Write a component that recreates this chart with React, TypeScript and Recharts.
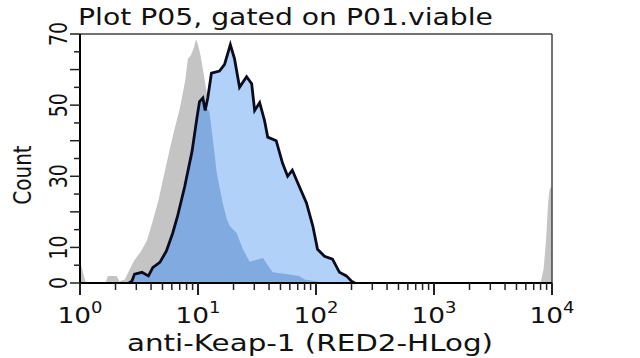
import { ComposedChart, Area, Line, XAxis, YAxis, ReferenceLine } from 'recharts';

const FONT = '"DejaVu Sans", Verdana, sans-serif';

// [channel, count]
const control: [number, number][] = [
  [1, 6], [1.06, 3], [1.12, 0], [1.65, 0], [1.72, 2], [2.05, 2], [2.15, 0.5], [2.4, 1],
  [2.65, 4], [2.9, 6.5], [3.3, 9], [3.7, 12], [4.1, 17], [4.6, 23], [5.2, 31], [5.8, 38],
  [6.3, 43], [7.0, 49], [7.3, 52], [7.8, 57], [8.2, 63], [8.7, 64], [9.2, 66], [9.6, 68.5],
  [10, 67], [10.5, 64], [11, 60], [11.8, 54], [12.5, 48], [13.4, 40], [14.4, 31], [16.2, 22.5],
  [17.5, 18], [18.6, 16], [21.3, 14], [24, 9.5], [27.4, 6], [31, 6.5], [35.5, 7], [39, 5],
  [43, 3], [55, 2.5], [72, 2], [80, 1], [100, 0.5], [120, 0], [8000, 0], [8500, 4],
  [8900, 12], [9250, 22], [9500, 26], [9800, 27], [10000, 27],
];

const sample: [number, number][] = [
  [2.6, 0], [2.75, 0.5], [2.9, 2.5], [3.35, 3], [3.8, 2], [4.15, 4.4], [4.75, 5.8], [5.4, 9],
  [6.1, 14], [6.7, 18.7], [7.7, 27], [8.9, 37], [9.8, 46.5], [10.3, 51], [11, 52], [11.5, 48.5],
  [12.1, 52], [13, 59], [15.2, 59.6], [16.8, 61.5], [18.8, 67], [20.4, 63], [22.5, 55], [25.8, 58],
  [28.5, 56], [30.2, 48.5], [33.3, 50.7], [36.6, 45.7], [39, 41], [46, 40], [52, 33.7], [57.5, 30],
  [63, 31.7], [72.5, 27], [83, 22.5], [94, 16], [103, 9.5], [118, 7.5], [138, 6.7], [158, 3],
  [181, 2], [200, 0.5], [213, 0],
];

// darker region where the two histograms overlap
const overlap: [number, number][] = [
  [2.6, 0], [2.75, 0.5], [2.9, 2.5], [3.35, 3], [3.8, 2], [4.15, 4.4], [4.75, 5.8], [5.4, 9],
  [6.1, 14], [6.7, 18.7], [7.7, 27], [8.9, 37], [9.8, 46.5], [10.3, 51], [11, 52], [11.5, 48.5],
  [12.1, 49], [12.5, 48], [13.4, 40], [14.4, 31], [16.2, 22.5], [17.5, 18], [18.6, 16], [21.3, 14],
  [24, 9.5], [27.4, 6], [31, 6.5], [35.5, 7], [39, 5], [43, 3], [55, 2.5], [72, 2], [80, 1],
  [100, 0.5], [120, 0],
];

const xDecades = [1, 10, 100, 1000, 10000];
const xExponents = ['0', '1', '2', '3', '4'];
const yTicks = [0, 5, 10, 15, 20, 25, 30, 35, 40, 45, 50, 55, 60, 65, 70];
const yLabels = [0, 10, 30, 50, 70];

const xTicks = xDecades.flatMap((d, i) =>
  i < xDecades.length - 1 ? [1, 2, 3, 4, 5, 6, 7, 8, 9].map((m) => m * d) : [d]
);

const rows = new Map<number, any>();
const addSeries = (pts: [number, number][], key: string) => {
  pts.forEach(([x, y]) => {
    const r = rows.get(x) ?? { x };
    r[key] = y;
    rows.set(x, r);
  });
};
addSeries(control, 'control');
addSeries(sample, 'sample');
addSeries(overlap, 'overlap');
const table = [...rows.values()].sort((a, b) => a.x - b.x);

function XTick({ x, y, payload }: any) {
  const i = xDecades.indexOf(payload.value);
  const major = i >= 0;
  return (
    <g>
      <line x1={x} x2={x} y1={y} y2={y + (major ? 12 : 7)} stroke="#222" strokeWidth={major ? 2 : 1.5} />
      {major && (
        <text transform={`translate(${x},323) scale(1.2,1)`} textAnchor="middle" fontSize={22} fontFamily={FONT} fill="#111">
          <tspan>10</tspan>
          <tspan dy={-10} fontSize={15}>{xExponents[i]}</tspan>
        </text>
      )}
    </g>
  );
}

function YTick({ x, y, payload }: any) {
  const v = payload.value;
  const major = v % 10 === 0;
  return (
    <g>
      <line x1={x - (major ? 10 : 6)} x2={x} y1={y} y2={y} stroke="#222" strokeWidth={1.5} />
      {yLabels.includes(v) && (
        <text transform={`translate(67,${y}) scale(1.3,1) rotate(-90)`} textAnchor="middle" fontSize={19} fontFamily={FONT} fill="#111">
          {v}
        </text>
      )}
    </g>
  );
}

export default function App() {
  return (
    <div style={{ position: 'absolute', left: 0, top: 0, width: 640, height: 358, background: '#fff' }}>
      <ComposedChart width={640} height={358} data={table} margin={{ top: 34, right: 88, bottom: 0, left: 0 }}>
        <XAxis
          dataKey="x"
          type="number"
          scale="log"
          domain={[1, 10000]}
          allowDataOverflow
          ticks={xTicks}
          interval={0}
          tickSize={0}
          tickMargin={0}
          tickLine={false}
          tick={<XTick />}
          height={75}
          axisLine={{ stroke: '#000', strokeWidth: 2 }}
        />
        <YAxis
          type="number"
          domain={[0, 70]}
          ticks={yTicks}
          interval={0}
          tickSize={0}
          tickMargin={0}
          tickLine={false}
          tick={<YTick />}
          width={80}
          axisLine={{ stroke: '#000', strokeWidth: 2 }}
        />
        <Area dataKey="control" type="linear" fill="#c4c4c4" fillOpacity={1} stroke="none" connectNulls isAnimationActive={false} />
        <Area dataKey="sample" type="linear" fill="#b2d1f8" fillOpacity={1} stroke="none" connectNulls isAnimationActive={false} />
        <Area dataKey="overlap" type="linear" fill="#80aae0" fillOpacity={1} stroke="none" connectNulls isAnimationActive={false} />
        <Line dataKey="sample" type="linear" stroke="#0b0b1e" strokeWidth={2.8} dot={false} connectNulls isAnimationActive={false} />
        <ReferenceLine y={70} stroke="#444" strokeWidth={1.5} />
        <ReferenceLine x={10000} stroke="#444" strokeWidth={1.5} />
      </ComposedChart>
      <svg width={640} height={358} style={{ position: 'absolute', left: 0, top: 0, pointerEvents: 'none' }}>
        <text x={78} y={25} fontSize={23} fontFamily={FONT} fill="#111" textLength={415} lengthAdjust="spacingAndGlyphs">
          Plot P05, gated on P01.viable
        </text>
        <text x={127} y={351} fontSize={23} fontFamily={FONT} fill="#111" textLength={366} lengthAdjust="spacingAndGlyphs">
          anti-Keap-1 (RED2-HLog)
        </text>
        <text transform="translate(31,175) scale(1.25,1) rotate(-90)" textAnchor="middle" fontSize={20} fontFamily={FONT} fill="#111">
          Count
        </text>
      </svg>
    </div>
  );
}
